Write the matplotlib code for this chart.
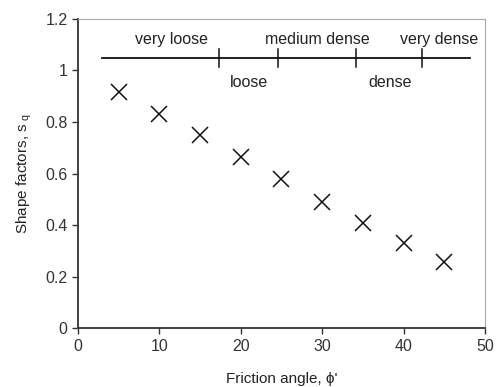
import matplotlib
matplotlib.use("Agg")
import matplotlib.pyplot as plt

plt.rcParams['font.family'] = ['Liberation Sans', 'DejaVu Sans']

friction_angle = [5, 10, 15, 20, 25, 30, 35, 40, 45]
shape_factor = [0.915, 0.83, 0.75, 0.665, 0.58, 0.49, 0.41, 0.33, 0.258]

scale_start, scale_end, scale_y = 3.0, 48.2, 1.05
boundaries = [17.3, 24.6, 34.2, 42.3]
upper_labels = ["very loose", "medium dense", "very dense"]
upper_pos = [11.5, 29.4, 44.3]
lower_labels = ["loose", "dense"]
lower_pos = [21.0, 38.4]

FS = 11.5
fig = plt.figure(figsize=(4.96, 3.87), dpi=100)
ax = fig.add_axes([0.157, 0.152, 0.821, 0.799])

ax.plot(friction_angle, shape_factor, linestyle='none', marker='x',
        markersize=12, markeredgewidth=1.1, color='#111111')

ax.plot([scale_start, scale_end], [scale_y, scale_y], color='#111111', lw=1.3)
for b in boundaries:
    ax.plot([b, b], [scale_y - 0.035, scale_y + 0.035], color='#111111', lw=1.1)
for t, x in zip(upper_labels, upper_pos):
    ax.text(x, 1.12, t, ha='center', va='center', fontsize=FS, color='#222222')
for t, x in zip(lower_labels, lower_pos):
    ax.text(x, 0.955, t, ha='center', va='center', fontsize=FS, color='#222222')

ax.set_xlim(0, 50)
ax.set_ylim(0, 1.2)
ax.set_xticks([0, 10, 20, 30, 40, 50])
ax.set_yticks([0, 0.2, 0.4, 0.6, 0.8, 1.0, 1.2])
ax.set_yticklabels(["0", "0.2", "0.4", "0.6", "0.8", "1", "1.2"])
ax.tick_params(labelsize=FS, length=4, width=1, direction='out', colors='#333333')

for s in ['left', 'bottom']:
    ax.spines[s].set_color('#333333')
    ax.spines[s].set_linewidth(1.3)
for s in ['top', 'right']:
    ax.spines[s].set_color('#aaaaaa')
    ax.spines[s].set_linewidth(0.8)

ax.set_xlabel("Friction angle, \u03d5'", fontsize=FS - 0.5, color='#222222', labelpad=13)
ax.set_ylabel("Shape factors, s$_{\\mathregular{\\ q}}$", fontsize=FS - 0.5,
              color='#222222', labelpad=8)

fig.savefig("out.png", dpi=100)
